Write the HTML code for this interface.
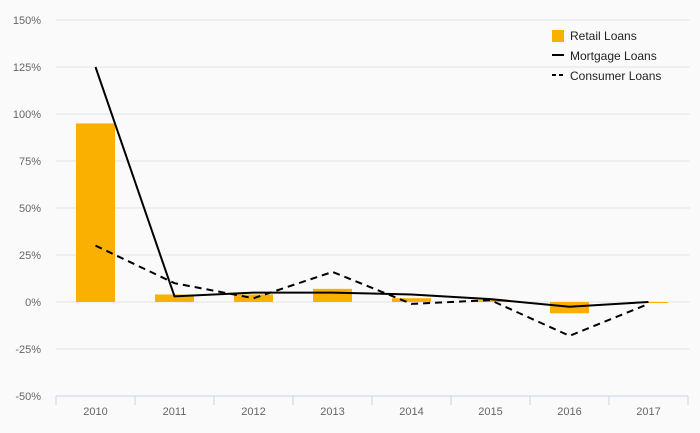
<!DOCTYPE html>
<html><head><meta charset="utf-8"><style>
body{margin:0;background:#fafafa;font-family:"Liberation Sans",sans-serif;}
svg{display:block}
</style></head><body>
<svg id="chart" width="700" height="433">
<rect width="700" height="433" fill="#fafafa"/>
<g id="grid"></g><g id="bars"></g><g id="lines"></g><g id="axis"></g>
<g>
<rect x="552" y="30" width="12" height="12" fill="#f9b000"/>
<text x="570" y="40" font-size="12" fill="#222">Retail Loans</text>
<line x1="552" y1="55" x2="564" y2="55" stroke="#000" stroke-width="2"/>
<text x="570" y="60" font-size="12" fill="#222">Mortgage Loans</text>
<line x1="552" y1="75" x2="564" y2="75" stroke="#000" stroke-width="2" stroke-dasharray="4,3"/>
<text x="570" y="80" font-size="12" fill="#222">Consumer Loans</text>
</g>
</svg>
<script>
const categories=["2010","2011","2012","2013","2014","2015","2016","2017"];
const retail=[95,4,4,7,2,1,-6,-0.5];
const mortgage=[125,3,5,5,4,1.5,-2.5,0];
const consumer=[30,10,2,16,-1,1,-18,-1];
const yTicks=[-50,-25,0,25,50,75,100,125,150];
const NS="http://www.w3.org/2000/svg";
const x0=56,band=79,yTop=20,yBot=396,yMin=-50,yMax=150;
const xc=i=>x0+band*i+band/2;
const y=v=>yBot-(v-yMin)/(yMax-yMin)*(yBot-yTop);
function mk(tag,attrs,parent,txt){const e=document.createElementNS(NS,tag);for(const k in attrs)e.setAttribute(k,attrs[k]);if(txt!=null)e.textContent=txt;document.getElementById(parent).appendChild(e);return e;}
yTicks.forEach(t=>{
  if(t!==yMin){const l=mk('line',{x1:x0,x2:690,y1:y(t),y2:y(t),stroke:'#e4e4e4','stroke-width':1},'grid');
  
  }
  const tx=mk('text',{x:41,y:y(t)+4,'font-size':11,fill:'#666','text-anchor':'end'},'axis',t+'%');
  
  
});
retail.forEach((v,i)=>{
  const r=mk('rect',{x:xc(i)-19.5,width:39,y:Math.min(y(v),y(0)),height:Math.max(Math.abs(y(v)-y(0)),1),fill:'#f9b000'},'bars');
  
  
});
const mp=mk('polyline',{points:mortgage.map((v,i)=>xc(i)+','+y(v)).join(' '),fill:'none',stroke:'#000','stroke-width':2},'lines');


const cp=mk('polyline',{points:consumer.map((v,i)=>xc(i)+','+y(v)).join(' '),fill:'none',stroke:'#000','stroke-width':2,'stroke-dasharray':'7,5'},'lines');


const ax=mk('line',{x1:x0,x2:x0+band*8,y1:yBot,y2:yBot,stroke:'#c6d3ea','stroke-width':1},'axis');


for(let i=0;i<=8;i++){const tk=mk('line',{x1:x0+band*i,x2:x0+band*i,y1:yBot,y2:yBot+9,stroke:'#c6d3ea'},'axis');
  
  }
categories.forEach((c,i)=>{const t=mk('text',{x:xc(i),y:415,'font-size':11,fill:'#666','text-anchor':'middle'},'axis',c);
  
  });
</script>
</body></html>
